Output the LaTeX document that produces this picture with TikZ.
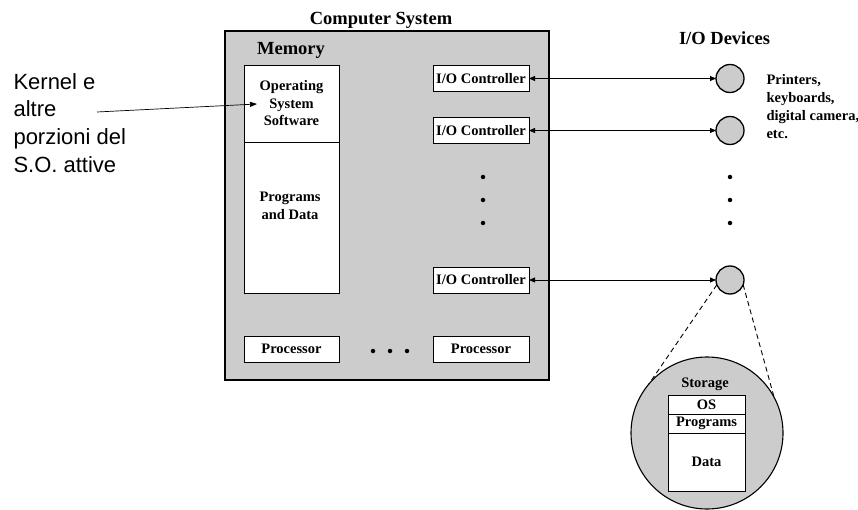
\documentclass[tikz,border=0pt]{standalone}
\usepackage{fontspec}
\setmainfont{Liberation Serif}
\newfontfamily\arialfont{Liberation Sans}
\usetikzlibrary{arrows.meta}
\definecolor{boxgray}{RGB}{204,204,204}
\begin{document}
\begin{tikzpicture}[x=1pt,y=-1pt,
 big/.style={font=\fontsize{18.5}{22}\selectfont\bfseries},
 lab/.style={font=\fontsize{14.5}{17.5}\selectfont\bfseries},
 ann/.style={font=\fontsize{22}{27.8}\selectfont\arialfont, anchor=base west},
 wbox/.style={draw, fill=white, line width=0.9pt, inner sep=0pt, outer sep=0pt},
 dev/.style={circle, draw, fill=boxgray, line width=1.3pt, minimum size=28pt, inner sep=0pt, outer sep=0pt},
 bullet/.style={circle, fill=black, minimum size=4.5pt, inner sep=0pt},
 link/.style={{Triangle[length=6pt,width=5pt]}-{Triangle[length=6pt,width=5pt]}, line width=0.8pt},
 zoomline/.style={dash pattern=on 5pt off 3.5pt, line width=0.9pt},
]
\useasboundingbox (0,0) rectangle (858,510);

% computer system
\node[draw, fill=boxgray, line width=1.6pt, minimum width=324pt, minimum height=349pt, inner sep=0pt, outer sep=0pt] (sys) at (387,205.5) {};
\node[big, anchor=base] (title) at (381,25) {Computer System};
\node[big, anchor=base] (memlbl) at (291,55) {Memory};

% memory
\node[wbox, lab, align=center, minimum width=95pt, minimum height=77pt] (os) at (291.5,103.5) {Operating\\System\\Software};
\node[wbox, minimum width=95pt, minimum height=151pt] (pd) at (291.5,217.5) {};
\node[lab, anchor=base] (pd1) at (290,202) {Programs};
\node[lab, anchor=base] (pd2) at (290,220) {and Data};

% controllers
\node[wbox, lab, minimum width=96pt, minimum height=26pt] (c1) at (481,78.5) {I/O Controller};
\node[wbox, lab, minimum width=96pt, minimum height=26pt] (c2) at (481,130.5) {I/O Controller};
\node[wbox, lab, minimum width=96pt, minimum height=26pt] (c3) at (481,280) {I/O Controller};

% processors
\node[wbox, lab, minimum width=95pt, minimum height=26pt] (p1) at (291.5,349) {Processor};
\node[wbox, lab, minimum width=96pt, minimum height=26pt] (p2) at (481,349) {Processor};
\node[bullet] (hd1) at (373,351) {};
\node[bullet] (hd2) at (390,351) {};
\node[bullet] (hd3) at (407,351) {};

% vertical dots
\node[bullet] (vc1) at (483,177) {};
\node[bullet] (vc2) at (483,200) {};
\node[bullet] (vc3) at (483,223) {};
\node[bullet] (vd1) at (730,177) {};
\node[bullet] (vd2) at (730,200) {};
\node[bullet] (vd3) at (730,223) {};

% devices
\node[big, anchor=base] (devlbl) at (724.5,45) {I/O Devices};
\node[dev] (d1) at (730,78.5) {};
\node[dev] (d2) at (730,130.5) {};
\node[dev] (d3) at (730,280) {};
\draw[link] (c1.east) -- (d1.west);
\draw[link] (c2.east) -- (d2.west);
\draw[link] (c3.east) -- (d3.west);

\node[lab, anchor=base west] (pr1) at (763,85) {Printers,};
\node[lab, anchor=base west] (pr2) at (763,103) {keyboards,};
\node[lab, anchor=base west] (pr3) at (763,121) {digital camera,};
\node[lab, anchor=base west] (pr4) at (763,139) {etc.};

% storage
\node[circle, draw, fill=boxgray, line width=1.1pt, minimum size=152pt, inner sep=0pt, outer sep=0pt] (stor) at (707,433) {};
\draw[zoomline] (d3.200) -- (stor.140);
\draw[zoomline] (d3.-20) -- (stor.28);
\node[lab, anchor=base] (storlbl) at (705,387) {Storage};
\node[wbox, lab, minimum width=77pt, minimum height=19pt] (sos) at (706.5,404.5) {OS};
\node[wbox, lab, minimum width=77pt, minimum height=19pt] (sprog) at (706.5,423.5) {Programs};
\node[wbox, lab, minimum width=77pt, minimum height=58pt] (sdata) at (706.5,462) {Data};

% annotation
\node[ann] (k1) at (10,90) {Kernel e};
\node[ann] (k2) at (10,117) {altre};
\node[ann] (k3) at (10,145) {porzioni del};
\node[ann] (k4) at (10,173) {S.O. attive};
\coordinate (kstart) at (97,112);
\coordinate (kend) at (257,104);
\draw[-{Triangle[length=7pt,width=5pt]}, line width=0.7pt] (kstart) -- (kend);
\end{tikzpicture}
\end{document}
